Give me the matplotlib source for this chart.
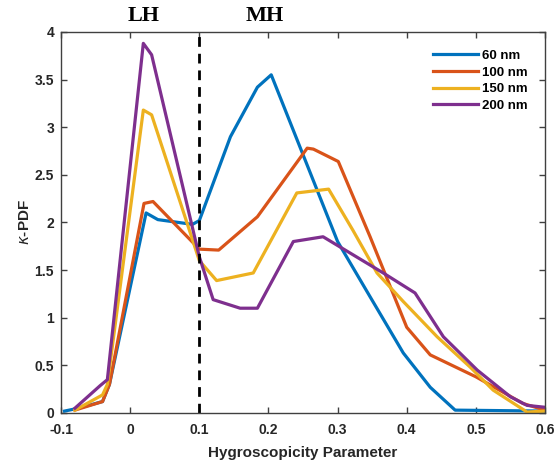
import matplotlib
matplotlib.use("Agg")
import matplotlib.pyplot as plt

# kappa-PDF curves
x_60 = [-0.095, -0.075, -0.04, -0.03, 0.023, 0.04, 0.09, 0.1, 0.145, 0.184, 0.204,
        0.3, 0.347, 0.395, 0.434, 0.47, 0.6]
y_60 = [0.02, 0.05, 0.12, 0.3, 2.1, 2.03, 1.98, 2.02, 2.9, 3.42, 3.55,
        1.8, 1.22, 0.63, 0.27, 0.03, 0.02]

x_100 = [-0.08, -0.04, -0.03, 0.02, 0.033, 0.1, 0.128, 0.184, 0.256, 0.265, 0.301,
         0.347, 0.4, 0.434, 0.5, 0.568, 0.6]
y_100 = [0.03, 0.12, 0.3, 2.2, 2.22, 1.72, 1.71, 2.06, 2.78, 2.77, 2.64,
         1.85, 0.9, 0.61, 0.38, 0.1, 0.03]

x_150 = [-0.08, -0.04, -0.033, 0.019, 0.031, 0.1, 0.125, 0.178, 0.241, 0.287,
         0.322, 0.357, 0.395, 0.444, 0.492, 0.525, 0.574, 0.6]
y_150 = [0.03, 0.19, 0.3, 3.18, 3.13, 1.6, 1.39, 1.47, 2.31, 2.35,
         1.92, 1.47, 1.17, 0.8, 0.48, 0.24, 0.01, 0.02]

x_200 = [-0.08, -0.043, -0.033, 0.019, 0.031, 0.1, 0.12, 0.159, 0.184, 0.236, 0.279,
         0.366, 0.412, 0.453, 0.502, 0.55, 0.574, 0.6]
y_200 = [0.05, 0.29, 0.35, 3.88, 3.76, 1.64, 1.19, 1.1, 1.1, 1.8, 1.85,
         1.47, 1.26, 0.8, 0.45, 0.17, 0.08, 0.06]

labels = ["60 nm", "100 nm", "150 nm", "200 nm"]
colors = ["#0072BD", "#D95319", "#EDB120", "#7E2F8E"]

plt.rcParams['font.family'] = ['Liberation Sans', 'DejaVu Sans']

fig = plt.figure(figsize=(5.55, 4.63), dpi=100)
ax = fig.add_axes([0.110, 0.108, 0.872, 0.823])

series = [(x_60, y_60), (x_100, y_100), (x_150, y_150), (x_200, y_200)]
for (xs, ys), lab, c in zip(series, labels, colors):
    ax.plot(xs, ys, color=c, lw=2.3, label=lab)

ax.axvline(0.1, color="black", lw=2, ls=(0, (3.5, 2.5)))

ax.set_xlim(-0.1, 0.6)
ax.set_ylim(0, 4)
ax.set_xticks([-0.1, 0, 0.1, 0.2, 0.3, 0.4, 0.5, 0.6])
ax.set_xticklabels(["-0.1", "0", "0.1", "0.2", "0.3", "0.4", "0.5", "0.6"])
ax.set_yticks([0, 0.5, 1, 1.5, 2, 2.5, 3, 3.5, 4])
ax.set_yticklabels(["0", "0.5", "1", "1.5", "2", "2.5", "3", "3.5", "4"])
ax.tick_params(direction="in", top=True, right=True, length=4, width=1,
               color="#404040", labelsize=10)
ax.tick_params(axis="x", pad=7)
ax.tick_params(axis="y", pad=5)
for lbl in ax.get_xticklabels() + ax.get_yticklabels():
    lbl.set_fontweight("bold")
    lbl.set_color("#262626")
for sp in ax.spines.values():
    sp.set_color("#404040")
    sp.set_linewidth(1)

ax.set_xlabel("Hygroscopicity Parameter", fontsize=11, fontweight="bold",
              color="#262626", labelpad=7)
ax.set_ylabel(r"$\kappa$-PDF", fontsize=11, fontweight="bold", color="#262626", labelpad=2)

ax.text(0.02, 4.06, "LH", fontsize=16, fontweight="bold", family="Liberation Serif",
        ha="center", va="bottom")
ax.text(0.194, 4.06, "MH", fontsize=16, fontweight="bold", family="Liberation Serif",
        ha="center", va="bottom")

leg = ax.legend(loc="upper right", frameon=False, fontsize=9.5, handlelength=3.4,
                labelspacing=0.33, handletextpad=0.3, borderaxespad=0.95)
for t in leg.get_texts():
    t.set_fontweight("bold")

fig.savefig("out.png", dpi=100)
